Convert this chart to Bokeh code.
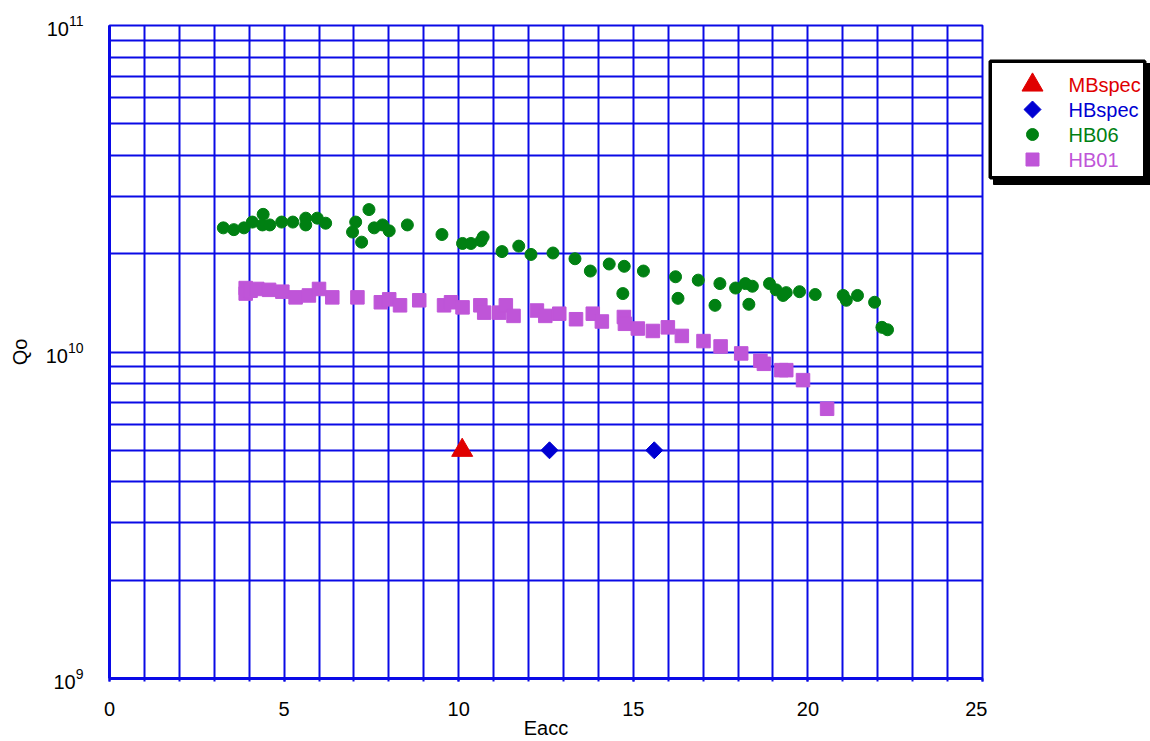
import math
from bokeh.plotting import figure
from bokeh.layouts import row
from bokeh.models import Range1d, FixedTicker, LogTickFormatter
from bokeh.core.properties import value
from bokeh.embed import file_html
from bokeh.resources import INLINE

# ---------------- data ----------------
Q_UNIT = 1e10

mb_eacc = [10.1]
mb_q = [0.50]

hb_eacc = [12.6, 15.6]
hb_q = [0.50, 0.50]

hb06_eacc = [3.26, 3.56, 3.85, 4.09, 4.38, 4.40, 4.59, 4.93, 5.25, 5.62, 5.62, 5.95, 6.19,
             6.96, 7.05, 7.22, 7.43, 7.58, 7.82, 8.01, 8.53, 9.52, 10.11, 10.35, 10.64, 10.70,
             11.24, 11.72, 12.07, 12.70, 13.33, 13.77, 14.31, 14.70, 14.74, 15.29, 16.21, 16.28,
             16.86, 17.34, 17.48, 17.93, 18.21, 18.31, 18.41, 18.90, 19.09, 19.29, 19.38, 19.76,
             20.21, 21.01, 21.10, 21.42, 21.91, 22.12, 22.28]
hb06_q = [2.40, 2.37, 2.40, 2.50, 2.45, 2.64, 2.45, 2.50, 2.50, 2.57, 2.45, 2.57, 2.48,
          2.33, 2.50, 2.17, 2.73, 2.40, 2.45, 2.35, 2.45, 2.29, 2.15, 2.15, 2.19, 2.25,
          2.03, 2.11, 1.99, 2.01, 1.93, 1.77, 1.86, 1.51, 1.83, 1.77, 1.70, 1.46,
          1.66, 1.39, 1.62, 1.57, 1.62, 1.40, 1.59, 1.62, 1.55, 1.49, 1.52, 1.53,
          1.50, 1.49, 1.44, 1.49, 1.42, 1.19, 1.17]

hb01_eacc = [3.90, 3.90, 4.04, 4.23, 4.57, 4.95, 5.33, 5.71, 6.00, 6.38, 7.10, 7.77, 8.01,
             8.32, 8.87, 9.58, 9.78, 10.11, 10.62, 10.73, 11.16, 11.35, 11.57, 12.24, 12.48,
             12.88, 13.36, 13.84, 14.10, 14.73, 14.76, 15.13, 15.56, 15.99, 16.39, 17.01,
             17.50, 18.09, 18.64, 18.74, 19.24, 19.38, 19.86, 20.55]
hb01_q = [1.57, 1.51, 1.54, 1.56, 1.55, 1.53, 1.47, 1.49, 1.56, 1.47, 1.47, 1.42, 1.45,
          1.39, 1.44, 1.39, 1.42, 1.37, 1.39, 1.32, 1.32, 1.39, 1.29, 1.34, 1.29,
          1.31, 1.26, 1.31, 1.24, 1.28, 1.22, 1.18, 1.16, 1.19, 1.12, 1.08,
          1.04, 0.99, 0.94, 0.92, 0.88, 0.88, 0.82, 0.67]

x_ticks = [0, 5, 10, 15, 20, 25]
y_ticks = [1e9, 1e10, 1e11]
legend_labels = ["MBspec", "HBspec", "HB06", "HB01"]
x_title = "Eacc"
y_title = "Qo"

# ---------------- style ----------------
FONT = "Liberation Sans"
GRID = "#0A0AE6"
RED = "#E00000"
BLUE = "#0000D2"
GREEN = "#008012"
PURPLE = "#BF55D8"
H = 741
TOP = 25
BOTTOM = 63

p = figure(width=987, height=H,
           x_range=Range1d(x_ticks[0], x_ticks[-1]),
           y_range=Range1d(y_ticks[0], y_ticks[-1]),
           y_axis_type="log",
           output_backend="svg", toolbar_location=None,
           min_border_left=109, min_border_right=5,
           min_border_top=TOP, min_border_bottom=BOTTOM)
p.background_fill_color = "white"
p.border_fill_color = "white"
p.outline_line_color = GRID
p.outline_line_width = 2

# grid
xg = list(range(int(x_ticks[0]), int(x_ticks[-1]) + 1))
yg = []
for e in range(int(round(math.log10(y_ticks[0]))), int(round(math.log10(y_ticks[-1])))):
    for k in range(1, 10):
        yg.append(k * 10.0 ** e)
yg.append(y_ticks[-1])
p.xgrid.ticker = FixedTicker(ticks=xg)
p.ygrid.ticker = FixedTicker(ticks=yg)
for g in (p.xgrid, p.ygrid):
    g.grid_line_color = GRID
    g.grid_line_width = 2
    g.grid_line_alpha = 1.0

# axes
p.xaxis.ticker = FixedTicker(ticks=x_ticks, minor_ticks=xg)
p.yaxis.ticker = FixedTicker(ticks=y_ticks)
p.yaxis.formatter = LogTickFormatter()
for ax in (p.xaxis, p.yaxis):
    ax.axis_line_color = GRID
    ax.axis_line_width = 3
    ax.major_tick_line_color = GRID
    ax.minor_tick_line_color = GRID
    ax.major_tick_line_width = 2
    ax.minor_tick_line_width = 2
    ax.major_label_text_font = FONT
    ax.major_label_text_font_size = "20px"
    ax.major_label_text_color = "black"
    ax.axis_label_text_font = FONT
    ax.axis_label_text_font_size = "20px"
    ax.axis_label_text_font_style = "normal"
    ax.axis_label_text_color = "black"
p.xaxis.major_tick_out = 3
p.xaxis.minor_tick_out = 3
p.xaxis.major_tick_in = 0
p.xaxis.minor_tick_in = 0
p.xaxis.major_label_standoff = 20
p.xaxis.axis_label = x_title
p.xaxis.axis_label_standoff = -2
p.yaxis.major_tick_out = 0
p.yaxis.major_tick_in = 0
p.yaxis.minor_tick_line_color = None
p.yaxis.major_label_standoff = 26
p.yaxis.axis_label = y_title
p.yaxis.axis_label_standoff = 12

# data marks
p.scatter(hb06_eacc, [v * Q_UNIT for v in hb06_q], marker="circle", size=12,
          fill_color=GREEN, line_color=GREEN, line_width=1)
p.scatter(hb01_eacc, [v * Q_UNIT for v in hb01_q], marker="square", size=13.5,
          fill_color=PURPLE, line_color=PURPLE, line_width=1)
p.scatter(mb_eacc, [v * Q_UNIT for v in mb_q], marker="triangle", size=21,
          fill_color=RED, line_color=RED, line_width=1)
p.scatter(hb_eacc, [v * Q_UNIT for v in hb_q], marker="square", angle=math.pi / 4, size=12,
          fill_color=BLUE, line_color=BLUE, line_width=1)

# ---------------- legend panel ----------------
# its frame is aligned with the main frame by the row layout, so map page pixels 1:1
LW = 1150 - 987
lg = figure(width=LW, height=H, x_range=Range1d(0, LW), y_range=Range1d(H - BOTTOM, TOP),
            output_backend="svg", toolbar_location=None, title=None,
            x_axis_location=None, y_axis_location=None,
            min_border_left=0, min_border_right=0, min_border_top=TOP, min_border_bottom=BOTTOM)
lg.grid.visible = False
lg.outline_line_color = None
lg.background_fill_color = "white"
lg.border_fill_color = "white"

lg.quad(left=[6], right=[163], top=[63], bottom=[184], fill_color="black", line_color="black")
lg.quad(left=[2.75], right=[157.25], top=[60.75], bottom=[177.25], fill_color="white",
        line_color="black", line_width=3.5)

rows = [84.5, 109, 134, 159]
colors = [RED, BLUE, GREEN, PURPLE]
markers = ["triangle", "square", "circle", "square"]
sizes = [21, 12, 12, 13]
angles = [0, math.pi / 4, 0, 0]
lg.scatter(x=[45] * 4, y=rows, marker=markers, size=sizes, angle=angles,
           fill_color=colors, line_color=colors, line_width=1)
lg.text(x=[81] * 4, y=rows, text=legend_labels, text_color=colors,
        text_font=value(FONT), text_font_size="20px", text_baseline="middle", text_align="left")

layout = row(p, lg)
open("out.html", "w").write(file_html(layout, INLINE))
